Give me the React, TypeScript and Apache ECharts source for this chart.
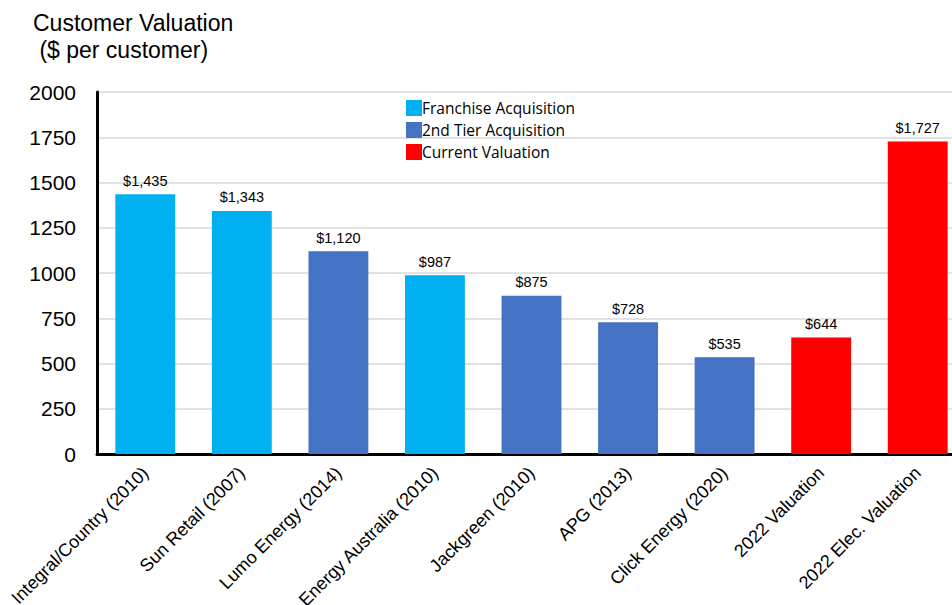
import React, { useEffect, useRef } from "react";
import * as echarts from "echarts";

const categories = [
  "Integral/Country (2010)",
  "Sun Retail (2007)",
  "Lumo Energy (2014)",
  "Energy Australia (2010)",
  "Jackgreen (2010)",
  "APG (2013)",
  "Click Energy (2020)",
  "2022 Valuation",
  "2022 Elec. Valuation",
];
const franchise = [1435, 1343, null, 987, null, null, null, null, null];
const secondTier = [null, null, 1120, null, 875, 728, 535, null, null];
const current = [null, null, null, null, null, null, null, 644, 1727];
const seriesNames = ["Franchise Acquisition", "2nd Tier Acquisition", "Current Valuation"];
const seriesColors = ["#00B0F0", "#4472C4", "#FF0000"];

const fmt = (v: number) => "$" + v.toLocaleString("en-US");
const FONT = "Liberation Sans, Arial, sans-serif";

export default function App() {
  const ref = useRef<HTMLDivElement>(null);
  useEffect(() => {
    if (!ref.current) return;
    const chart = echarts.init(ref.current, null, { renderer: "svg" });
    const mk = (name: string, data: (number | null)[], color: string) => ({
      name,
      type: "bar",
      stack: "all",
      data,
      barCategoryGap: "38%",
      itemStyle: { color },
      label: {
        show: true,
        position: "top",
        distance: 6,
        formatter: (p: any) => (p.value == null ? "" : fmt(p.value)),
        color: "#000",
        fontSize: 14.5,
        fontFamily: FONT,
      },
    });
    chart.setOption({
      animation: false,
      textStyle: { fontFamily: FONT },
      title: {
        text: "Customer Valuation\n ($ per customer)",
        left: 28,
        top: 4,
        textStyle: {
          fontSize: 23,
          fontWeight: "normal",
          color: "#000",
          lineHeight: 27,
          fontFamily: FONT,
        },
      },
      legend: {
        orient: "vertical",
        left: 401,
        top: 95,
        itemWidth: 16,
        itemHeight: 16,
        itemGap: 6,
        icon: "rect",
        data: seriesNames,
        textStyle: { fontSize: 15.5, color: "#000", fontFamily: "Open Sans, Noto Sans, sans-serif", padding: [0, 0, 0, -5] },
      },
      grid: { left: 97, right: 0, top: 92, bottom: 151, containLabel: false, outerBoundsMode: "none" },
      xAxis: {
        type: "category",
        data: categories,
        axisLine: { lineStyle: { color: "#000", width: 3 } },
        axisTick: { show: false },
        axisLabel: {
          rotate: 45,
          interval: 0,
          fontSize: 18,
          color: "#000",
          margin: 16,
          fontFamily: FONT,
        },
      },
      yAxis: {
        type: "value",
        min: 0,
        max: 2000,
        interval: 250,
        axisLine: { show: true, lineStyle: { color: "#000", width: 3 } },
        axisTick: { show: false },
        splitLine: { lineStyle: { color: "#D9D9D9", width: 1.5 } },
        axisLabel: {
          fontSize: 21,
          color: "#000",
          margin: 21,
          formatter: (v: number) => String(v),
          fontFamily: FONT,
        },
      },
      series: [
        mk(seriesNames[0], franchise, seriesColors[0]),
        mk(seriesNames[1], secondTier, seriesColors[1]),
        mk(seriesNames[2], current, seriesColors[2]),
      ],
    });
    return () => chart.dispose();
  }, []);
  return (
    <div style={{ position: "fixed", left: 0, top: 0, width: 952, height: 605, overflow: "hidden", background: "#fff" }}>
      <div ref={ref} style={{ position: "absolute", left: 0, top: 0, width: 966, height: 605 }} />
    </div>
  );
}
